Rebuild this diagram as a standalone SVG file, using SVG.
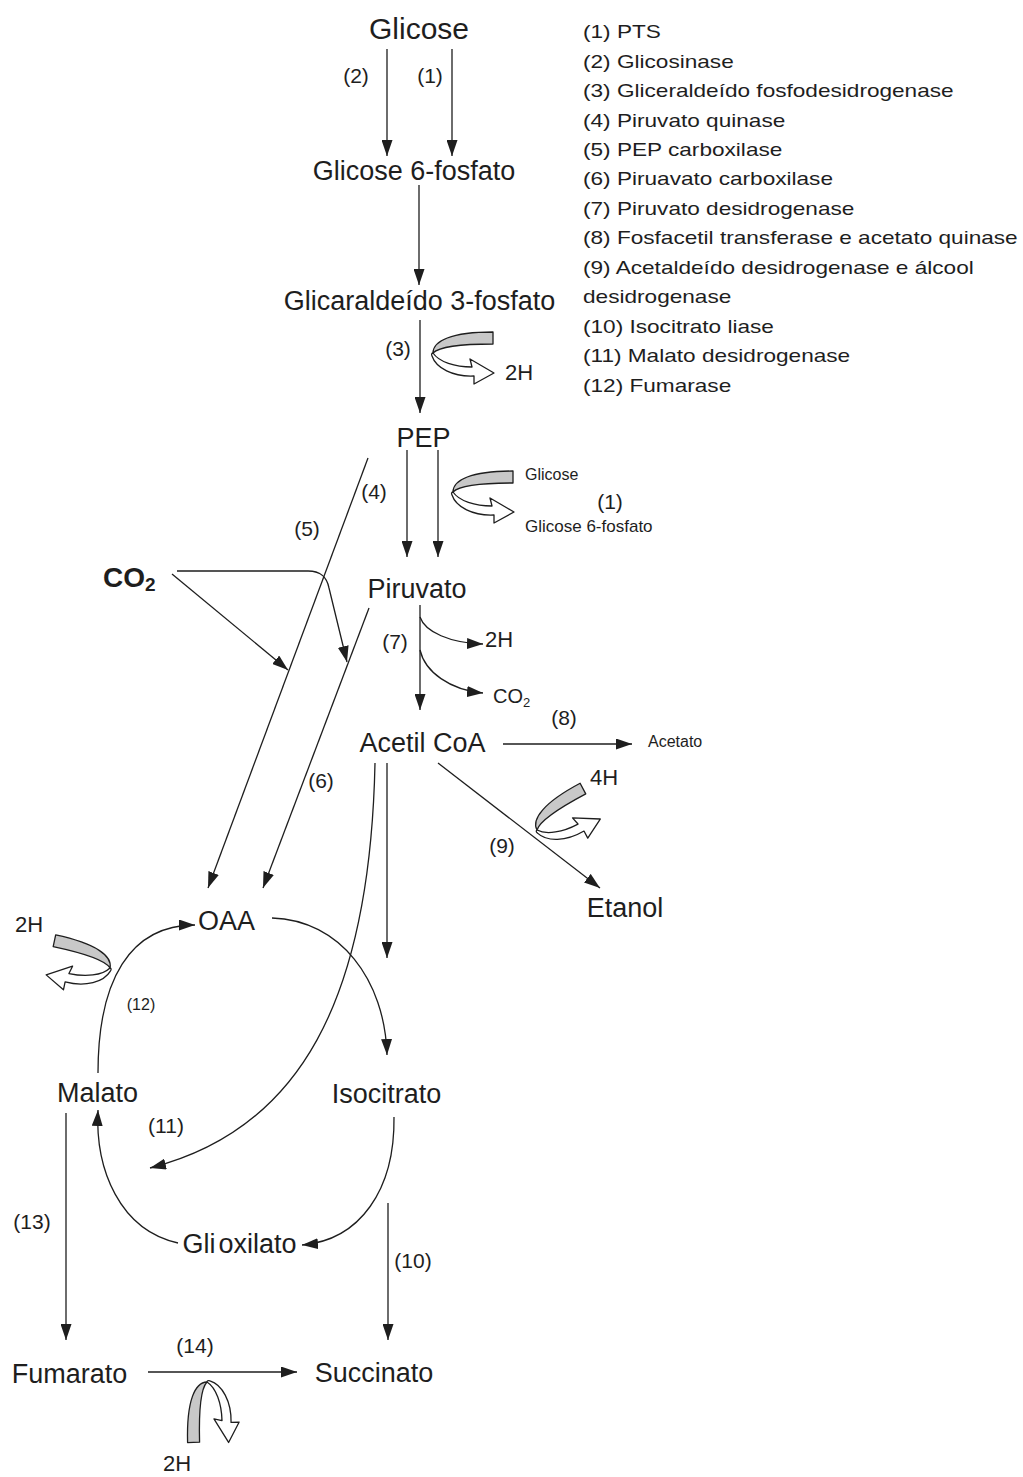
<svg xmlns="http://www.w3.org/2000/svg" width="1023" height="1477" viewBox="0 0 1023 1477">
  <defs>
    <style>
      text { font-family: "Liberation Sans", Arial, sans-serif; fill: #1e1e1e; }
      .node { font-size: 27px; text-anchor: middle; }
      .lbl { font-size: 21px; text-anchor: middle; }
      .sm { font-size: 22px; }
      .leg { font-size: 19px; }
      .conn { fill: none; stroke: #1e1e1e; stroke-width: 1.3; }
      .arr { marker-end: url(#ah); }
      .band { fill: #c8c8c8; stroke: #1e1e1e; stroke-width: 1.3; stroke-linejoin: round; }
      .hollow { fill: #ffffff; stroke: #1e1e1e; stroke-width: 1.3; stroke-linejoin: round; }
    </style>
    <marker id="ah" viewBox="0 0 16 11" refX="16" refY="5.5" markerWidth="16" markerHeight="11" markerUnits="userSpaceOnUse" orient="auto">
      <path d="M0,0 L16,5.5 L0,11 z" fill="#1e1e1e"/>
    </marker>
    <!-- cofactor symbol: grey band in, hollow arrow out; apex at origin, opening toward +x -->
    <g id="cof">
      <path class="hollow" d="M0,0 C6,9 22,14 39,14 L37,6 L61,20 L41,31 L41,23 C20,24 3,15 -1,3 C-2,1 -1,0 0,0 Z"/>
      <path class="band" d="M60,-21 C18,-21 0,-12 0,0 C6,-6 26,-9 60,-9 Z"/>
    </g>
  </defs>

  <!-- connectors -->
  <g id="connectors">
    <path class="conn arr" d="M387,49 L387,156"/>
    <path class="conn arr" d="M452,49 L452,156"/>
    <path class="conn arr" d="M419,185 L419,285"/>
    <path class="conn arr" d="M420,320 L420,413"/>
    <path class="conn arr" d="M407,450 L407,557"/>
    <path class="conn arr" d="M438,450 L438,557"/>
    <path class="conn arr" d="M368,458 L208,888"/>
    <path class="conn arr" d="M369,608 L263,888"/>
    <path class="conn arr" d="M177,571 L308,571 C322,571 327,578 329,588 L347,662"/>
    <path class="conn arr" d="M172,574 L288,670"/>
    <path class="conn arr" d="M420,605 L420,710"/>
    <path class="conn arr" d="M420,617 C425,632 450,643 483,644"/>
    <path class="conn arr" d="M420,650 C425,672 450,690 483,693"/>
    <path class="conn arr" d="M503,744 L632,744"/>
    <path class="conn arr" d="M438,763 L600,888"/>
    <path class="conn arr" d="M375,763 C370,1000 300,1130 150,1168"/>
    <path class="conn arr" d="M387,763 L387,958"/>
    <path class="conn arr" d="M272,918 C340,920 385,980 387,1055"/>
    <path class="conn arr" d="M394,1117 C395,1190 360,1240 302,1245"/>
    <path class="conn arr" d="M388,1203 L388,1340"/>
    <path class="conn arr" d="M178,1243 C120,1230 95,1170 98,1110"/>
    <path class="conn arr" d="M98,1073 C98,980 130,925 195,925"/>
    <path class="conn arr" d="M66,1113 L66,1340"/>
    <path class="conn arr" d="M148,1372 L297,1372"/>
  </g>

  <!-- cofactor symbols -->
  <g id="cofactors">
    <use href="#cof" transform="translate(433,353)"/>
    <use href="#cof" transform="translate(453,492)"/>
    <use href="#cof" transform="translate(537,830) rotate(-28)"/>
    <use href="#cof" transform="translate(110,968) rotate(12) scale(-1,1)"/>
    <use href="#cof" transform="translate(207,1382) rotate(88.5) scale(1,-1)"/>
  </g>

  <!-- metabolites -->
  <g id="glicose"><text class="node" x="419" y="39" style="font-size:30px">Glicose</text></g>
  <g id="glicose6p"><text class="node" x="414" y="180">Glicose 6-fosfato</text></g>
  <g id="glicaraldeido3p"><text class="node" x="419.5" y="310">Glicaraldeído 3-fosfato</text></g>
  <g id="pep"><text class="node" x="423.5" y="447">PEP</text></g>
  <g id="piruvato"><text class="node" x="417" y="598">Piruvato</text></g>
  <g id="acetilcoa"><text class="node" x="422.5" y="752">Acetil CoA</text></g>
  <g id="etanol"><text class="node" x="625" y="917">Etanol</text></g>
  <g id="oaa"><text class="node" x="226.5" y="930">OAA</text></g>
  <g id="isocitrato"><text class="node" x="386.5" y="1103">Isocitrato</text></g>
  <g id="malato"><text class="node" x="97.5" y="1102">Malato</text></g>
  <g id="glioxilato"><text class="node" x="239.5" y="1253">Gli<tspan dx="3">oxilato</tspan></text></g>
  <g id="fumarato"><text class="node" x="69.5" y="1383">Fumarato</text></g>
  <g id="succinato"><text class="node" x="374" y="1382">Succinato</text></g>
  <g id="co2"><text x="103" y="587" style="font-size:28px;font-weight:bold">CO<tspan dy="4" style="font-size:19px">2</tspan></text></g>

  <!-- side products -->
  <g id="side">
    <text class="sm" x="505" y="380">2H</text>
    <text x="525" y="480" style="font-size:16px">Glicose</text>
    <text x="525" y="532" style="font-size:17px">Glicose 6-fosfato</text>
    <text class="sm" x="485" y="647">2H</text>
    <text x="493" y="703" style="font-size:20px">CO<tspan dy="4" style="font-size:13px">2</tspan></text>
    <text x="648" y="747" style="font-size:16px">Acetato</text>
    <text class="sm" x="590" y="785">4H</text>
    <text class="sm" x="15" y="932">2H</text>
    <text class="sm" x="163" y="1471">2H</text>
  </g>

  <!-- reaction numbers -->
  <g id="reaction-labels">
    <text class="lbl" x="356" y="83">(2)</text>
    <text class="lbl" x="430" y="83">(1)</text>
    <text class="lbl" x="398" y="356">(3)</text>
    <text class="lbl" x="374" y="499">(4)</text>
    <text class="lbl" x="307" y="536">(5)</text>
    <text class="lbl" x="610" y="509">(1)</text>
    <text class="lbl" x="395" y="649">(7)</text>
    <text class="lbl" x="564" y="725">(8)</text>
    <text class="lbl" x="321" y="788">(6)</text>
    <text class="lbl" x="502" y="853">(9)</text>
    <text class="lbl" x="141" y="1010" style="font-size:16px">(12)</text>
    <text class="lbl" x="166" y="1133">(11)</text>
    <text class="lbl" x="32" y="1229">(13)</text>
    <text class="lbl" x="413" y="1268">(10)</text>
    <text class="lbl" x="195" y="1353">(14)</text>
  </g>

  <!-- enzyme list -->
  <g id="legend" transform="translate(583,0) scale(1.19,1)">
    <text class="leg" x="0" y="38.3">(1) PTS</text>
    <text class="leg" x="0" y="67.7">(2) Glicosinase</text>
    <text class="leg" x="0" y="97.2">(3) Gliceraldeído fosfodesidrogenase</text>
    <text class="leg" x="0" y="126.6">(4) Piruvato quinase</text>
    <text class="leg" x="0" y="156.1">(5) PEP carboxilase</text>
    <text class="leg" x="0" y="185.5">(6) Piruavato carboxilase</text>
    <text class="leg" x="0" y="215">(7) Piruvato desidrogenase</text>
    <text class="leg" x="0" y="244.4">(8) Fosfacetil transferase e acetato quinase</text>
    <text class="leg" x="0" y="273.9">(9) Acetaldeído desidrogenase e álcool</text>
    <text class="leg" x="0" y="303.3">desidrogenase</text>
    <text class="leg" x="0" y="332.8">(10) Isocitrato liase</text>
    <text class="leg" x="0" y="362.2">(11) Malato desidrogenase</text>
    <text class="leg" x="0" y="391.7">(12) Fumarase</text>
  </g>
</svg>
